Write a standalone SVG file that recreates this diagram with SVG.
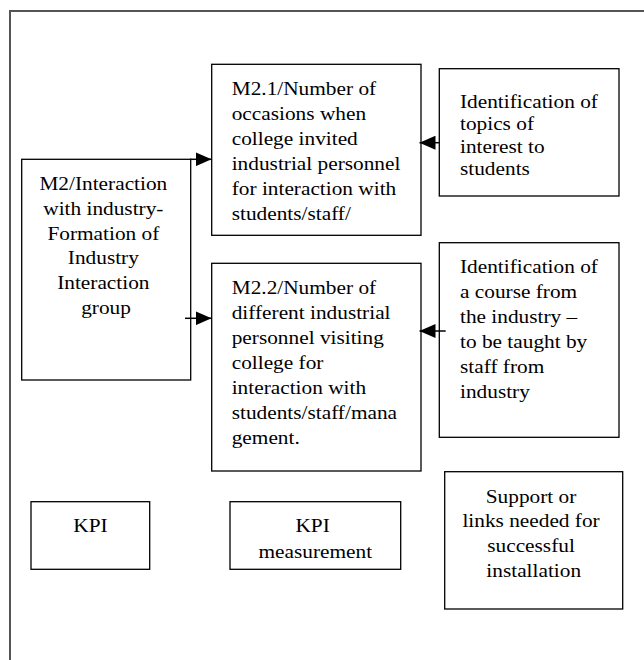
<svg xmlns="http://www.w3.org/2000/svg" width="644" height="660" viewBox="0 0 644 660">
  <defs>
    <style>
      .frame { fill: none; stroke: #555; stroke-width: 2; }
      .box { fill: #fff; stroke: #000; stroke-width: 1.3; }
      .t { font-family: "Liberation Serif", "Times New Roman", serif; font-size: 18.7px; fill: #000; }
      .c { text-anchor: middle; }
      .conn { stroke: #000; stroke-width: 1.5; fill: none; marker-end: url(#head); }
    </style>
    <marker id="head" markerUnits="userSpaceOnUse" markerWidth="16" markerHeight="14" refX="16" refY="7" orient="auto">
      <path d="M0,0 L16,7 L0,14 z" fill="#000"/>
    </marker>
  </defs>

  <rect width="644" height="660" fill="#fff"/>
  <!-- page frame, open at the right and bottom -->
  <path class="frame" d="M10,662 V11 H646"/>

  <g id="m2">
    <rect class="box" x="21.7" y="159.3" width="169" height="220.7"/>
    <text class="t c" transform="translate(106,190) scale(1.14,1)">
      <tspan x="0" dy="0">M2/Interaction</tspan>
      <tspan x="0" dy="24.8">with industry-</tspan>
      <tspan x="0" dy="24.8">Formation of</tspan>
      <tspan x="0" dy="24.8">Industry</tspan>
      <tspan x="0" dy="24.8">Interaction</tspan>
      <tspan x="0" dy="24.8">group</tspan>
    </text>
  </g>

  <g id="m2-1">
    <rect class="box" x="211.7" y="64.3" width="209.3" height="171"/>
    <text class="t" transform="translate(231.7,95) scale(1.14,1)">
      <tspan x="0" dy="0">M2.1/Number of</tspan>
      <tspan x="0" dy="25">occasions when</tspan>
      <tspan x="0" dy="25">college invited</tspan>
      <tspan x="0" dy="25">industrial personnel</tspan>
      <tspan x="0" dy="25">for interaction with</tspan>
      <tspan x="0" dy="25">students/staff/</tspan>
    </text>
  </g>

  <g id="m2-2">
    <rect class="box" x="211.7" y="263.3" width="209.3" height="207.7"/>
    <text class="t" transform="translate(231.7,294) scale(1.14,1)">
      <tspan x="0" dy="0">M2.2/Number of</tspan>
      <tspan x="0" dy="25">different industrial</tspan>
      <tspan x="0" dy="25">personnel visiting</tspan>
      <tspan x="0" dy="25">college for</tspan>
      <tspan x="0" dy="25">interaction with</tspan>
      <tspan x="0" dy="25">students/staff/mana</tspan>
      <tspan x="0" dy="25">gement.</tspan>
    </text>
  </g>

  <g id="topics">
    <rect class="box" x="439.3" y="68.7" width="179.7" height="127.3"/>
    <text class="t" transform="translate(460,108) scale(1.14,1)">
      <tspan x="0" dy="0">Identification of</tspan>
      <tspan x="0" dy="22.5">topics of</tspan>
      <tspan x="0" dy="22.5">interest to</tspan>
      <tspan x="0" dy="22.5">students</tspan>
    </text>
  </g>

  <g id="course">
    <rect class="box" x="439.3" y="242.7" width="179.7" height="194.6"/>
    <text class="t" transform="translate(460,272.7) scale(1.14,1)">
      <tspan x="0" dy="0">Identification of</tspan>
      <tspan x="0" dy="25">a course from</tspan>
      <tspan x="0" dy="25">the industry –</tspan>
      <tspan x="0" dy="25">to be taught by</tspan>
      <tspan x="0" dy="25">staff from</tspan>
      <tspan x="0" dy="25">industry</tspan>
    </text>
  </g>

  <g id="kpi">
    <rect class="box" x="31" y="501.7" width="118.7" height="67.6"/>
    <text class="t c" transform="translate(90.5,531.7) scale(1.14,1)">KPI</text>
  </g>

  <g id="kpi-measurement">
    <rect class="box" x="230" y="501.7" width="170.7" height="67.6"/>
    <text class="t c" transform="translate(315.3,531.7) scale(1.14,1)">
      <tspan x="0" dy="0">KPI</tspan>
      <tspan x="0" dy="26.6">measurement</tspan>
    </text>
  </g>

  <g id="support">
    <rect class="box" x="444.7" y="471.7" width="178" height="137.3"/>
    <text class="t c" transform="translate(533.7,502.5) scale(1.14,1)">
      <tspan x="0" dy="0">Support or</tspan>
      <tspan x="0" dy="25">links needed for</tspan>
      <tspan x="0" dy="25">successful</tspan>
      <tspan x="0" dy="25">installation</tspan>
    </text>
  </g>

  <g id="connectors">
    <line class="conn" x1="190" y1="159.3" x2="211.5" y2="159.3"/>
    <line class="conn" x1="185" y1="318.3" x2="211.5" y2="318.3"/>
    <line class="conn" x1="439.3" y1="142.7" x2="419.5" y2="142.7"/>
    <line class="conn" x1="445.7" y1="331" x2="419.5" y2="331"/>
  </g>
</svg>
